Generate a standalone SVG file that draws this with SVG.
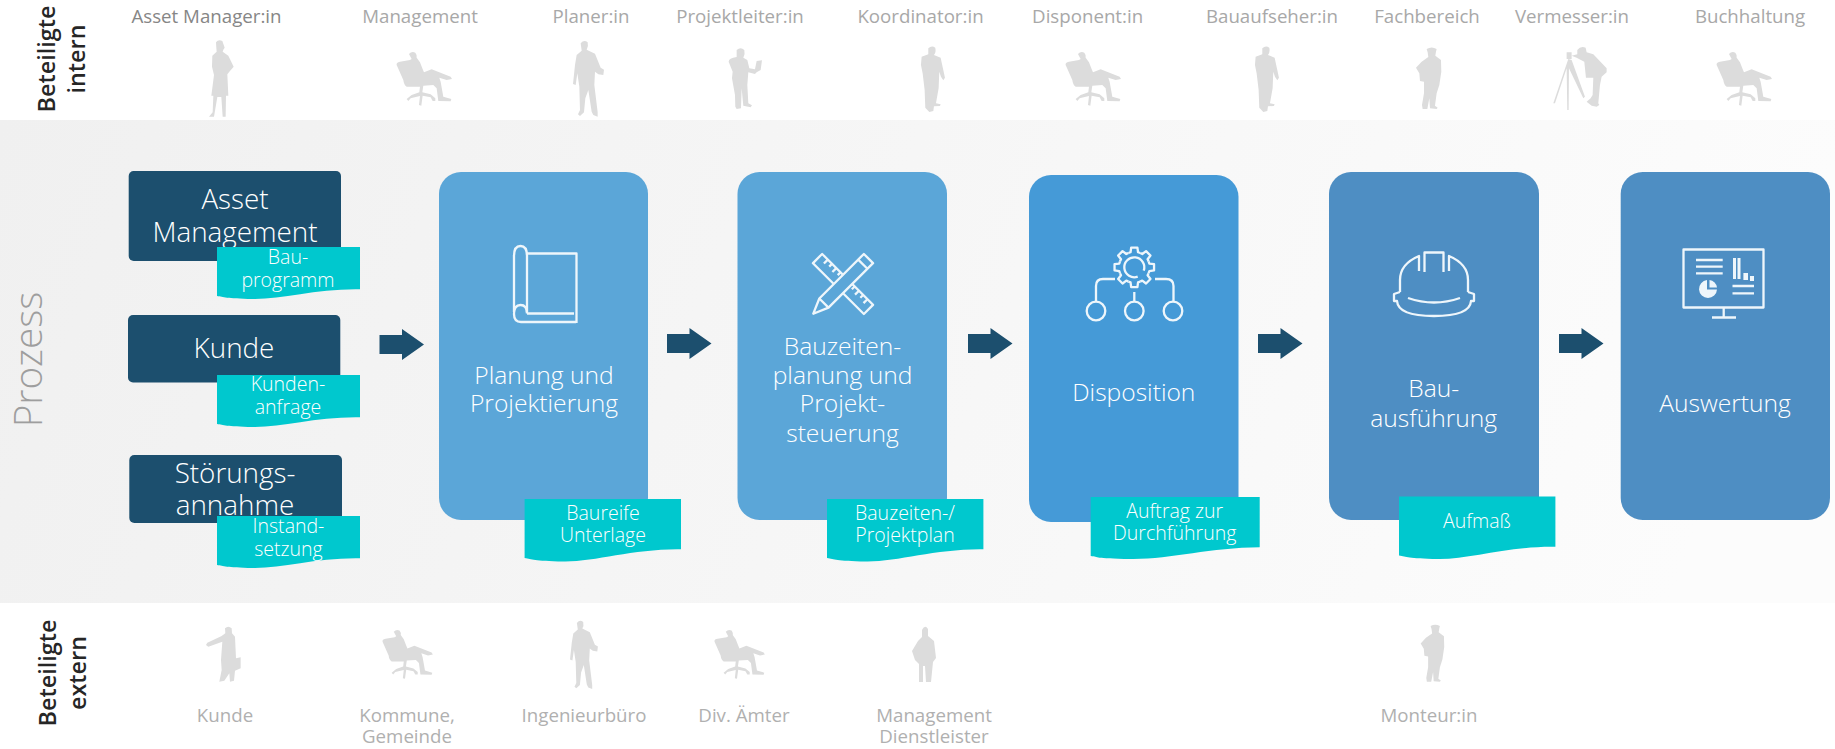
<svg xmlns="http://www.w3.org/2000/svg" width="1835" height="749" viewBox="0 0 1835 749">
<style>
text{font-family:"Open Sans","Liberation Sans",sans-serif;text-anchor:middle}
.top{font-size:18.7px;fill:#a8a8a8}
.bot{font-size:18.7px;fill:#b0b0b0}
.side{font-size:23.400px;font-weight:600;fill:#262626}
.card{font-size:24.600px;font-weight:300;fill:#fff}
.src{font-size:27.800px;font-weight:300;fill:#fff}
.tag{font-size:19.500px;font-weight:300;fill:#fff}
.dark{fill:#1c4f6e}
.teal{fill:#00c8ce}
.sil{fill:#dcdcdc}
.ico{fill:none;stroke:#eef6fb;stroke-width:2.3;stroke-linejoin:round}
.icf{fill:#eef6fb}
</style>
<defs>
<linearGradient id="bg" x1="0" y1="0" x2="1" y2="0.1"><stop offset="0" stop-color="#f0f0f0"/><stop offset="1" stop-color="#fcfcfc"/></linearGradient>
<path id="arrow" d="M0 6H22.5V0L44.5 15.5L22.5 31V25H0Z"/>
<path id="tag-s" d="M217 247H360V289.3C317 288.5 281 299.5 253 299S224 297 217 296Z"/>
<path id="tag-b" d="M0 0H156.4V50.3C110 49.5 70 63 39 62.5S8 60 0 59Z"/>
<path id="woman" d="M78 22Q85 12 97 18L104 38L100 44L98 50L115 62L131 95L118 110L112 118L115 182H108L107 245H98L94 186H82L72 245H57L68 232L70 182H64L72 120L66 95L67 62L80 50L79 38Z"/>
<path id="sit" d="M657 57Q665 48 676 53Q682 60 680 68L690 82L697 100L702 112L725 103L782 125L786 132L770 135L748 128L752 140L760 185L784 192L782 199L745 198L740 160L730 150L700 152L697 172L722 178L736 190L736 198L728 198L722 187L698 182L694 212L687 210L690 183L662 190L655 198L650 192L665 180L688 172L690 155L650 155Q642 150 640 135L620 90Q618 82 630 80L660 75L665 72Z"/>
<path id="man" d="M62 25Q72 12 83 22Q86 35 80 44L105 56L122 98L132 104L130 120L115 118L105 110L103 150L113 232L113 245L100 240L95 230L85 165L76 190L72 232L60 243L54 238L60 225L58 155L52 115L47 150L39 147L45 90L50 60L65 47Z"/>
<path id="laptop" d="M530 45Q542 35 553 45Q556 58 550 68L562 75L568 100L585 103L590 78L606 76L602 105L590 112L585 117L565 112L562 150L565 205L576 211L572 217L550 212L545 160L543 220L530 222L526 215L525 180L516 130L518 110L506 80Q506 70 530 66Z"/>
<path id="stand" d="M1105 40Q1115 30 1126 38Q1129 52 1122 60L1142 68L1150 105L1155 128L1150 136L1143 125L1138 110L1136 160L1128 205L1142 208L1140 213L1122 214L1120 228L1108 231L1096 218L1094 165L1088 115L1083 90L1085 65L1105 58Z"/>
<path id="hip" d="M560 42Q575 33 590 42L588 50L586 62L603 75L604 110L598 150L590 175L585 212L593 218L590 222L570 220L568 190L562 222L548 222L546 210L552 175L552 140L540 138L538 115L528 98L545 80L565 66L563 52Z"/>
<path id="tooth" d="M-5.930-14.320L-3.750-15.040L-3.130-19.750H3.130L3.750-15.040L5.930-14.320"/>
</defs>

<rect id="band" x="0" y="120" width="1835" height="483" fill="url(#bg)"/>

<g id="label-intern"><text class="side" transform="translate(55,59) rotate(-90)">Beteiligte</text><text class="side" transform="translate(85,59) rotate(-90)">intern</text></g>
<g id="label-prozess"><text transform="translate(42,359.500) rotate(-90)" font-size="38.700" font-weight="300" fill="#9e9e9e">Prozess</text></g>
<g id="label-extern"><text class="side" transform="translate(56,673) rotate(-90)">Beteiligte</text><text class="side" transform="translate(86,673) rotate(-90)">extern</text></g>

<g id="int-asset"><text class="top" x="206.500" y="23" style="fill:#868686">Asset Manager:in</text><use href="#woman" class="sil" transform="translate(190,35) scale(.3333)"/></g>
<g id="int-management"><text class="top" x="420" y="23">Management</text><use href="#sit" class="sil" transform="translate(190,35) scale(.3333)"/></g>
<g id="int-planer"><text class="top" x="591" y="23">Planer:in</text><use href="#man" class="sil" transform="translate(560,35) scale(.3333)"/></g>
<g id="int-projektleiter"><text class="top" x="740" y="23">Projektleiter:in</text><use href="#laptop" class="sil" transform="translate(560,35) scale(.3333)"/></g>
<g id="int-koordinator"><text class="top" x="920.500" y="23">Koordinator:in</text><use href="#stand" class="sil" transform="translate(560,35) scale(.3333)"/></g>
<g id="int-disponent"><text class="top" x="1087.600" y="23">Disponent:in</text><use href="#sit" class="sil" transform="translate(859,35) scale(.3333)"/></g>
<g id="int-bauaufseher"><text class="top" x="1272" y="23">Bauaufseher:in</text><use href="#stand" class="sil" transform="translate(894,35) scale(.3333)"/></g>
<g id="int-fachbereich"><text class="top" x="1427" y="23">Fachbereich</text><use href="#hip" class="sil" transform="translate(1240,35) scale(.3333)"/></g>
<g id="int-vermesser"><text class="top" x="1572" y="23">Vermesser:in</text><g class="sil" transform="translate(1240,35) scale(.3333)"><path d="M985 72L940 205L945 205L980 100L982 225L986 225L987 100L1030 190L1035 185L995 75ZM980 52H995V72H980Z"/><path d="M1012 45Q1022 32 1037 38L1040 52L1060 58L1100 100L1100 112L1085 125L1080 150L1075 205L1078 210L1070 215L1055 212L1040 200L1052 190L1058 180L1060 128L1038 128L1033 80L1010 68L995 62L1012 58Z"/></g></g>
<g id="int-buchhaltung"><text class="top" x="1750" y="23">Buchhaltung</text><use href="#sit" class="sil" transform="translate(1510,35) scale(.3333)"/></g>

<g id="src-asset"><rect class="dark" x="128.700" y="171" width="212.300" height="90" rx="5"/><text class="src" x="235" y="209">Asset</text><text class="src" x="235" y="241.700">Management</text><use href="#tag-s" class="teal"/><text class="tag" x="288" y="264.300">Bau-</text><text class="tag" x="288" y="286.700">programm</text></g>
<g id="src-kunde"><rect class="dark" x="128" y="315" width="212.300" height="67.500" rx="5"/><text class="src" x="234" y="358">Kunde</text><use href="#tag-s" class="teal" y="128"/><text class="tag" x="288" y="391">Kunden-</text><text class="tag" x="288" y="414">anfrage</text></g>
<g id="src-stoerung"><rect class="dark" x="129.300" y="455" width="212.700" height="68" rx="5"/><text class="src" x="235" y="483">Störungs-</text><text class="src" x="235" y="515">annahme</text><use href="#tag-s" class="teal" y="269"/><text class="tag" x="288.500" y="533">Instand-</text><text class="tag" x="288.500" y="555.700">setzung</text></g>

<g id="connectors" class="dark">
<use href="#arrow" x="379.500" y="329"/><use href="#arrow" x="667" y="328"/><use href="#arrow" x="968" y="328"/><use href="#arrow" x="1258" y="328"/><use href="#arrow" x="1559" y="328"/>
</g>

<g id="card-planung"><rect x="439" y="172" width="209" height="348" rx="22" fill="#5ba6d8"/>
<g class="ico"><path d="M514 312V256Q514 246 520.500 246Q527 246 527 256V312"/><path d="M527 253.500H576.500V323"/><path d="M527 313.500Q527 305 520.500 305Q514 305 514 314Q514 322 521 322H576"/><path d="M527 313.500H574"/></g>
<text class="card" x="544" y="384">Planung und</text><text class="card" x="544" y="412">Projektierung</text>
<use href="#tag-b" class="teal" x="524.600" y="499"/><text class="tag" x="603" y="520">Baureife</text><text class="tag" x="603" y="542">Unterlage</text></g>

<g id="card-bauzeiten"><rect x="737.500" y="172" width="209.500" height="348" rx="22" fill="#5ba6d8"/>
<g class="ico" transform="translate(843,284)"><g transform="rotate(45)"><rect x="-36" y="-6.500" width="72" height="13"/><path d="M-28-6.500V-1M-22-6.500V-2.500M-16-6.500V-1M-10-6.500V-2.500M10-6.500V-2.500M16-6.500V-1M22-6.500V-2.500M28-6.500V-1"/></g><g transform="rotate(-45)"><path d="M-27-6.500H36V6.500H-27L-42 0Z" fill="#5ba6d8"/><path d="M28-6.500V6.500M-27-6.500V6.500"/></g></g>
<text class="card" x="842.500" y="355">Bauzeiten-</text><text class="card" x="842.500" y="384">planung und</text><text class="card" x="842.500" y="412">Projekt-</text><text class="card" x="842.500" y="441.700">steuerung</text>
<use href="#tag-b" class="teal" x="827" y="499"/><text class="tag" x="905" y="520">Bauzeiten-/</text><text class="tag" x="905" y="542">Projektplan</text></g>

<g id="card-disposition"><rect x="1029" y="175" width="209.500" height="347" rx="22" fill="#459ad7"/>
<g class="ico"><g transform="translate(1134.300,267.300)"><use href="#tooth"/><use href="#tooth" transform="rotate(45)"/><use href="#tooth" transform="rotate(90)"/><use href="#tooth" transform="rotate(135)"/><use href="#tooth" transform="rotate(180)"/><use href="#tooth" transform="rotate(225)"/><use href="#tooth" transform="rotate(270)"/><use href="#tooth" transform="rotate(315)"/></g>
<path d="M1143.700 270.700A10 10 0 1 0 1137.700 276.700"/><path d="M1115 279H1103Q1096 279 1096 286V302M1155 279H1166Q1173.500 279 1173.500 286V302M1134.300 292V302"/><circle cx="1096" cy="311" r="9.300"/><circle cx="1134.300" cy="311" r="9.300"/><circle cx="1173" cy="311" r="9.300"/></g>
<text class="card" x="1133.800" y="400.700">Disposition</text>
<path class="teal" d="M1090.700 497H1259.700V547.300C1210 547.500 1170 559.500 1131 559S1100 557 1090.700 556Z"/><text class="tag" x="1174.700" y="518">Auftrag zur</text><text class="tag" x="1174.700" y="540">Durchführung</text></g>

<g id="card-ausfuehrung"><rect x="1329" y="172" width="210" height="348" rx="22" fill="#4e8ec3"/>
<g class="ico"><path d="M1400 292V280Q1400 264 1419 256V271M1424.500 272V252.500H1443.500V272M1449 271V256Q1468 264 1468 280V292"/><path d="M1400 292L1394 294V301H1397Q1398 316 1434 316Q1470 316 1471 301H1474V294L1468 292"/><path d="M1408 298Q1434 307 1460 298"/></g>
<text class="card" x="1433.700" y="397.300">Bau-</text><text class="card" x="1433.700" y="426.700">ausführung</text>
<use href="#tag-b" class="teal" x="1399" y="496.500"/><text class="tag" x="1477" y="527.700">Aufmaß</text></g>

<g id="card-auswertung"><rect x="1620.700" y="172" width="209.300" height="348" rx="22" fill="#4e8ec3"/>
<g class="ico"><rect x="1683.500" y="249.500" width="80" height="58"/><path d="M1723.700 308V317M1712 317.500H1736M1696 260H1722.700M1696 266.700H1722.700M1696 273.300H1722.700M1732.500 286H1754M1732.500 293.300H1754"/></g>
<g class="icf"><rect x="1733" y="258" width="3" height="21"/><rect x="1737.500" y="258" width="3" height="21"/><rect x="1743.400" y="273" width="4.600" height="7"/><rect x="1750" y="276" width="4" height="5"/><path d="M1707 280A9 9 0 1 0 1717 289.500H1707Z"/><path d="M1709.500 280A8.500 8.500 0 0 1 1717 287.500H1709.500Z"/></g>
<text class="card" x="1725" y="411.700">Auswertung</text></g>

<g id="ext-kunde"><path class="sil" transform="translate(190,610) scale(.3333)" d="M105 55Q115 45 125 55L126 70L135 80L138 145L152 142L152 175L135 182L132 212L120 215L118 190L103 212L88 215L95 180L93 150L97 95L55 110L48 105L52 98L95 78L106 70Z"/><text class="bot" x="225" y="722">Kunde</text></g>
<g id="ext-kommune"><use href="#sit" class="sil" transform="translate(194.700,614.500) scale(.303)"/><text class="bot" x="407" y="722">Kommune,</text><text class="bot" x="407" y="743">Gemeinde</text></g>
<g id="ext-ingenieur"><use href="#man" class="sil" transform="translate(558.300,615.400) scale(.3)"/><text class="bot" x="584" y="722">Ingenieurbüro</text></g>
<g id="ext-aemter"><use href="#sit" class="sil" transform="translate(526.700,614.500) scale(.303)"/><text class="bot" x="744" y="722">Div. Ämter</text></g>
<g id="ext-dienstleister"><path class="sil" d="M922 630Q925 624 928 629L928 636L934 641L936 658L933 662L931 682H926L925 666H923L923 682H919L919 664L915 660L912 651L918 641L922 637Z"/><text class="bot" x="934" y="722">Management</text><text class="bot" x="934" y="743">Dienstleister</text></g>
<g id="ext-monteur"><use href="#hip" class="sil" transform="translate(1257,613) scale(.31)"/><text class="bot" x="1429" y="722">Monteur:in</text></g>
</svg>
